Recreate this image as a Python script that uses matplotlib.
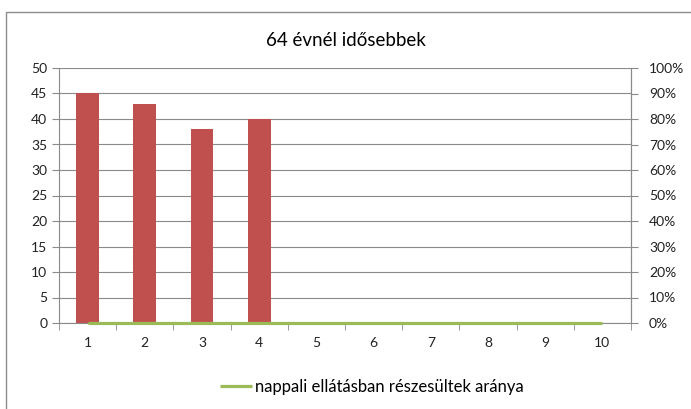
import matplotlib
matplotlib.use("Agg")
import matplotlib.pyplot as plt
import matplotlib.patches as mpatches
from matplotlib.ticker import FixedLocator, PercentFormatter

categories = [1, 2, 3, 4, 5, 6, 7, 8, 9, 10]
bar_values = [45, 43, 38, 40, 0, 0, 0, 0, 0, 0]
ratio_values = [0, 0, 0, 0, 0, 0, 0, 0, 0, 0]
title = "64 évnél idősebbek"
line_label = "nappali ellátásban részesültek aránya"

plt.rcParams['font.family'] = ['Lato', 'DejaVu Sans']

fig = plt.figure(figsize=(6.91, 4.09), dpi=100)
# outer chart border like excel
fig.patches.append(mpatches.Rectangle((6 / 691, -0.05), 1.0, 1 - 12 / 409 + 0.05,
                                      transform=fig.transFigure, fill=False,
                                      edgecolor="#8c8c8c", linewidth=1))

ax = fig.add_axes([59 / 691, 1 - 323 / 409, 572 / 691, 255 / 409])
ax.bar(categories, bar_values, width=0.4, color="#C0504D", zorder=3)
ax.set_xlim(0.5, 10.5)
ax.set_ylim(0, 50)
ax.set_yticks(range(0, 51, 5))
ax.yaxis.grid(True, color="#8a8a8a", linewidth=0.8, zorder=0)
ax.set_xticks(categories)
ax.xaxis.set_minor_locator(FixedLocator([x + 0.5 for x in range(0, 11)]))
ax.tick_params(axis="x", which="major", length=0, pad=10, labelsize=10, colors="#222222")
ax.tick_params(axis="x", which="minor", length=5, color="#8a8a8a")
ax.tick_params(axis="y", length=5, color="#8a8a8a", labelsize=10, labelcolor="#222222")
for s in ["top"]:
    ax.spines[s].set_visible(False)
for s in ["left", "bottom", "right"]:
    ax.spines[s].set_color("#8a8a8a")

ax2 = ax.twinx()
ax2.plot(categories, ratio_values, color="#9BBB59", linewidth=2.3, label=line_label,
         zorder=4, clip_on=False, solid_capstyle="butt")
ax2.set_ylim(0, 1)
ax2.set_yticks([i / 10 for i in range(11)])
ax2.yaxis.set_major_formatter(PercentFormatter(1.0, decimals=0))
ax2.tick_params(axis="y", length=5, pad=8, color="#8a8a8a", labelsize=10, labelcolor="#222222")
ax2.spines["top"].set_visible(False)
ax2.spines["right"].set_color("#8a8a8a")
ax2.spines["left"].set_visible(False)
ax2.spines["bottom"].set_visible(False)
ax2.set_zorder(ax.get_zorder() + 1)
ax2.patch.set_visible(False)

fig.text(0.5, 1 - 40 / 409, title, ha="center", va="center", fontsize=13.5)
fig.legend(loc="center", bbox_to_anchor=(372 / 691, 1 - 387 / 409), frameon=False,
           fontsize=12, handlelength=1.9, handletextpad=0.2)

fig.savefig("out.png", dpi=100)
